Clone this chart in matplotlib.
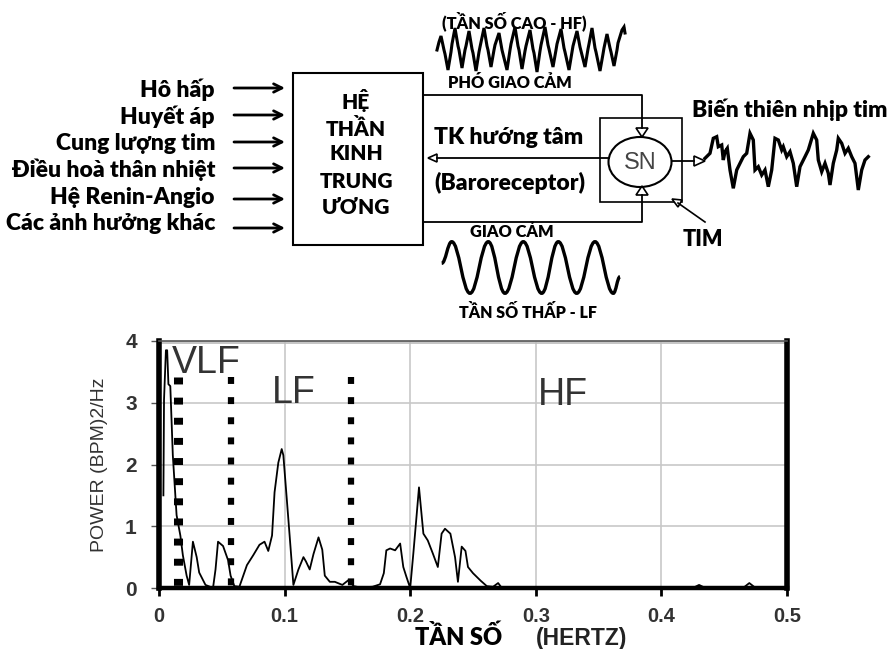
import matplotlib
matplotlib.use("Agg")
import matplotlib.pyplot as plt
from matplotlib.patches import Rectangle, Ellipse, Polygon, PathPatch
from matplotlib.path import Path

plt.rcParams['lines.scale_dashes'] = False

# ---------------- data: HRV power spectrum ----------------
freq = [0.0035, 0.004, 0.0055, 0.0065, 0.0075, 0.009, 0.011, 0.014, 0.017, 0.019,
        0.022, 0.024, 0.027, 0.030, 0.032, 0.037, 0.043, 0.045, 0.047, 0.051,
        0.055, 0.057, 0.060, 0.064, 0.070, 0.075, 0.080, 0.084, 0.087, 0.090,
        0.092, 0.095, 0.0977, 0.099, 0.1017, 0.104, 0.107, 0.111, 0.115, 0.117,
        0.120, 0.123, 0.127, 0.130, 0.132, 0.136, 0.140, 0.146, 0.151, 0.155,
        0.160, 0.170, 0.176, 0.179, 0.181, 0.184, 0.188, 0.192, 0.1945, 0.197,
        0.200, 0.2025, 0.205, 0.207, 0.209, 0.2105, 0.214, 0.218, 0.222, 0.225,
        0.2277, 0.232, 0.2357, 0.238, 0.241, 0.244, 0.246, 0.250, 0.256, 0.261,
        0.266, 0.270, 0.273, 0.280, 0.425, 0.430, 0.435, 0.465, 0.470, 0.475, 0.500]
power = [1.5, 3.05, 3.85, 3.85, 3.3, 3.27, 2.15, 1.18, 0.85, 0.53,
         0.2, 0.05, 0.75, 0.5, 0.25, 0.05, 0.0, 0.3, 0.75, 0.68,
         0.45, 0.2, 0.03, 0.02, 0.37, 0.53, 0.7, 0.75, 0.6, 0.85,
         1.55, 2.03, 2.25, 2.15, 1.45, 0.85, 0.05, 0.3, 0.5, 0.43,
         0.3, 0.55, 0.82, 0.62, 0.2, 0.1, 0.1, 0.05, 0.13, 0.03,
         0.01, 0.02, 0.06, 0.24, 0.61, 0.64, 0.61, 0.72, 0.34, 0.18,
         0.0, 0.56, 1.15, 1.63, 1.2, 0.88, 0.77, 0.56, 0.34, 0.88,
         0.96, 0.88, 0.5, 0.1, 0.67, 0.6, 0.34, 0.24, 0.12, 0.03,
         0.02, 0.08, 0.0, 0.0, 0.0, 0.05, 0.0, 0.0, 0.08, 0.0, 0.0]
band_edges = [0.0155, 0.0575, 0.153]
band_names = ["VLF", "LF", "HF"]
band_label_pos = [(0.010, 3.65), (0.090, 3.16), (0.302, 3.12)]
x_ticks = [0, 0.1, 0.2, 0.3, 0.4, 0.5]
x_tick_labels = ["0", "0.1", "0.2", "0.3", "0.4", "0.5"]
y_ticks = [0, 1, 2, 3, 4]

# ---------------- diagram content (pixel coordinates) ----------------
inputs = ["Hô hấp", "Huyết áp", "Cung lượng tim", "Điều hoà thân nhiệt",
          "Hệ Renin-Angio", "Các ảnh hưởng khác"]
input_text_y = [90, 117, 143, 170, 197, 223]
input_arrow_y = [88, 115, 142, 168, 199, 228]
cns_lines = ["HỆ", "THẦN", "KINH", "TRUNG", "ƯƠNG"]
cns_line_y = [101, 128, 154, 181, 208]

hf_wave_x = [437, 439, 441, 444, 445, 448, 451, 452, 455, 458, 459, 462, 465, 466, 469, 472,
             473, 476, 479, 480, 484, 487, 488, 491, 494, 495, 499, 502, 503, 507, 510, 511,
             515, 518, 519, 522, 525, 526, 530, 533, 534, 537, 540, 541, 545, 548, 549, 553,
             556, 557, 561, 564, 565, 569, 572, 573, 577, 580, 581, 585, 588, 589, 592, 595,
             596, 600, 603, 604, 607, 610, 611, 614, 617, 618, 622, 624, 625]
hf_wave_y = [50, 42, 36, 50, 54, 70, 52, 44, 28, 46, 50, 68, 50, 46, 31, 49,
             53, 71, 52, 47, 28, 46, 50, 67, 50, 45, 33, 50, 54, 70, 50, 44,
             27, 46, 50, 69, 51, 46, 30, 49, 53, 72, 51, 45, 27, 45, 49, 67,
             50, 44, 29, 48, 52, 70, 52, 46, 31, 47, 51, 67, 49, 44, 28, 48,
             52, 71, 54, 48, 34, 48, 52, 66, 50, 43, 30, 27, 33]

lf_peaks_x = [451.7, 488.3, 523.3, 558.3, 595.0]
lf_troughs_x = [470.0, 505.0, 541.7, 576.7, 613.3]
lf_peak_y = 241.7
lf_trough_y = 293.3
lf_start = (441.7, 263.3)
lf_end = (620.0, 276.7)

hrv_x = [705, 710, 713.3, 716.7, 718.3, 721.7, 723.3, 725, 727.3, 730, 733.3, 736.7, 740,
         743.3, 746.7, 750, 753.3, 755, 758.3, 761.7, 765, 768.3, 771.7, 775, 778.3, 781.7,
         783.3, 786.7, 790, 793.3, 796.7, 800, 805, 808.3, 813.3, 816.7, 818.3, 821.7, 825,
         828.3, 830, 833.3, 836.7, 838.3, 841.7, 845, 848.3, 851.7, 855, 858.3, 861.7, 865, 868.3]
hrv_y = [158.3, 153.3, 138.3, 136.7, 146.7, 145, 160, 151.7, 148.3, 170, 188.3, 170, 163.3,
         156.7, 153.3, 133.3, 140, 170, 166.7, 175, 170, 186.7, 170, 138.3, 140, 150,
         146.7, 156.7, 151.7, 163.3, 186.7, 166.7, 156.7, 150, 133.3, 140, 160, 171.7, 163.3,
         173.3, 185, 163.3, 150, 138.3, 143.3, 153.3, 148.3, 156.7, 163.3, 190, 170, 160, 156.7]

W, H = 892, 649
fig = plt.figure(figsize=(W / 100, H / 100), dpi=100)
fig.patch.set_facecolor('white')

# ---------------- diagram axes ----------------
d = fig.add_axes([0, 0, 1, 1])
d.set_xlim(0, W)
d.set_ylim(H, 0)
d.axis('off')
d.patch.set_alpha(0)

lbl_font = dict(family=['Lato', 'DejaVu Sans'], fontweight='heavy', color='black')

for t, y in zip(inputs, input_text_y):
    d.text(215, y, t, ha='right', va='center', fontsize=16.5, **lbl_font)
for y in input_arrow_y:
    d.annotate('', xy=(285, y), xytext=(234, y),
               arrowprops=dict(arrowstyle='->,head_length=0.6,head_width=0.3',
                               lw=2.0, color='black', shrinkA=0, shrinkB=0))

# central nervous system box
d.add_patch(Rectangle((293, 73), 130, 172, fill=False, lw=1.5, ec='black'))
for t, y in zip(cns_lines, cns_line_y):
    d.text(356, y, t, ha='center', va='center', fontsize=15, **lbl_font)

# parasympathetic (top) and sympathetic (bottom) paths
d.plot([423, 642, 642], [95, 95, 128], color='black', lw=1.3)
d.plot([423, 642, 642], [222, 222, 195], color='black', lw=1.3)
d.add_patch(Polygon([[636, 128], [648, 128], [642, 137]], closed=True, fc='white', ec='black', lw=1.2))
d.add_patch(Polygon([[636, 195], [648, 195], [642, 186]], closed=True, fc='white', ec='black', lw=1.2))

# afferent line (TK hướng tâm)
d.plot([437, 609], [158, 158], color='black', lw=1.3)
d.add_patch(Polygon([[437, 154], [437, 162], [428, 158]], closed=True, fc='white', ec='black', lw=1.2))

# heart box and SN node
d.add_patch(Rectangle((600, 118), 82, 84, fill=False, lw=1.2, ec='black'))
d.add_patch(Ellipse((640, 162), 63, 50, fill=False, lw=1.5, ec='black'))
d.text(640, 163, "SN", ha='center', va='center', fontsize=17,
       family=['Liberation Sans'], color='#444444')
d.plot([672, 694], [161, 161], color='black', lw=1.3)
d.add_patch(Polygon([[694, 156], [694, 166], [705, 161]], closed=True, fc='white', ec='black', lw=1.2))

# TIM arrow
d.plot([705, 678], [222, 203], color='black', lw=1.2)
d.add_patch(Polygon([[672, 199], [682, 200], [678, 207]], closed=True, fc='white', ec='black', lw=1.2))
d.text(703, 240, "TIM", ha='center', va='center', fontsize=15.5, **lbl_font)

# texts near paths
d.text(509, 137, "TK hướng tâm", ha='center', va='center', fontsize=16.5, **lbl_font)
d.text(510, 183, "(Baroreceptor)", ha='center', va='center', fontsize=16.5, **lbl_font)
d.text(790, 110, "Biến thiên nhịp tim", ha='center', va='center', fontsize=16.5, **lbl_font)
d.text(510, 83, "PHÓ GIAO CẢM", ha='center', va='center', fontsize=11.8, **lbl_font)
d.text(514, 21, "(TẦN SỐ CAO - HF)", ha='center', va='center', fontsize=11.8, **lbl_font)
d.text(512, 232, "GIAO CẢM", ha='center', va='center', fontsize=11.8, **lbl_font)
d.text(528, 313, "TẦN SỐ THẤP - LF", ha='center', va='center', fontsize=11.5, **lbl_font)

# HF wave
d.plot(hf_wave_x, hf_wave_y, color='black', lw=2.2, solid_joinstyle='miter')

# LF wave: smooth curve through extrema using cubic Bezier segments
ext = [lf_start]
for px, tx in zip(lf_peaks_x, lf_troughs_x):
    ext.append((px, lf_peak_y))
    ext.append((tx, lf_trough_y))
ext.append(lf_end)
verts = [ext[0]]
codes = [Path.MOVETO]
for (x0, y0), (x1, y1) in zip(ext[:-1], ext[1:]):
    dx = x1 - x0
    verts += [(x0 + 0.4 * dx, y0), (x1 - 0.4 * dx, y1), (x1, y1)]
    codes += [Path.CURVE4] * 3
d.add_patch(PathPatch(Path(verts, codes), fill=False, lw=2.4, ec='black'))

# HRV wave
d.plot(hrv_x, hrv_y, color='black', lw=2.4, solid_joinstyle='miter')

# x-axis title (two parts, as in the original)
d.text(459, 637, "TẦN SỐ", ha='center', va='center', fontsize=17, **lbl_font)
d.text(582, 638, "(HERTZ)", ha='center', va='center', fontsize=16.5, fontweight='bold',
       family=['Liberation Sans'], color='#222222')

# ---------------- spectrum axes ----------------
l, r, t, b = 159, 787, 341, 588
ax = fig.add_axes([l / W, 1 - b / H, (r - l) / W, (b - t) / H])
ax.set_xlim(0, 0.5)
ax.set_ylim(0, 4)

ax.set_xticks(x_ticks)
ax.set_xticklabels(x_tick_labels)
ax.set_yticks(y_ticks)
ax.grid(True, color='#c8c8c8', lw=1.2)
ax.set_axisbelow(True)

for x0, lw in zip(band_edges, [6.5, 4.5, 4.5]):
    ax.plot([x0, x0], [3.42, 0], color='black', lw=lw,
            dashes=(5, 9.5), solid_capstyle='butt', dash_capstyle='butt')

ax.plot(freq, power, color='black', lw=1.3)

for name, (fx, py) in zip(band_names, band_label_pos):
    ax.text(fx, py, name, fontsize=27, family=['Liberation Sans'], color='#333333',
            ha='left', va='center')

ax.spines['left'].set_linewidth(4)
ax.spines['right'].set_linewidth(4)
ax.spines['bottom'].set_linewidth(3.2)
ax.spines['top'].set_linewidth(1.2)
ax.spines['top'].set_color('#555555')
ax.axhline(3.97, color='#bbbbbb', lw=1.2)

ax.tick_params(axis='x', direction='out', length=6, width=2, color='black',
               labelsize=14.5, labelcolor='#333333', pad=8)
ax.tick_params(axis='y', direction='out', length=6, width=1, color='#555555',
               labelsize=15, labelcolor='#333333', pad=10)
for lab in ax.get_xticklabels() + ax.get_yticklabels():
    lab.set_fontweight('bold')
    lab.set_family(['Liberation Sans'])

ax.set_ylabel("POWER (BPM)2/Hz", fontsize=14, family=['Liberation Sans'], color='#333333')
ax.yaxis.set_label_coords(-0.082, 0.5)

fig.savefig("out.png", dpi=100, facecolor='white')
